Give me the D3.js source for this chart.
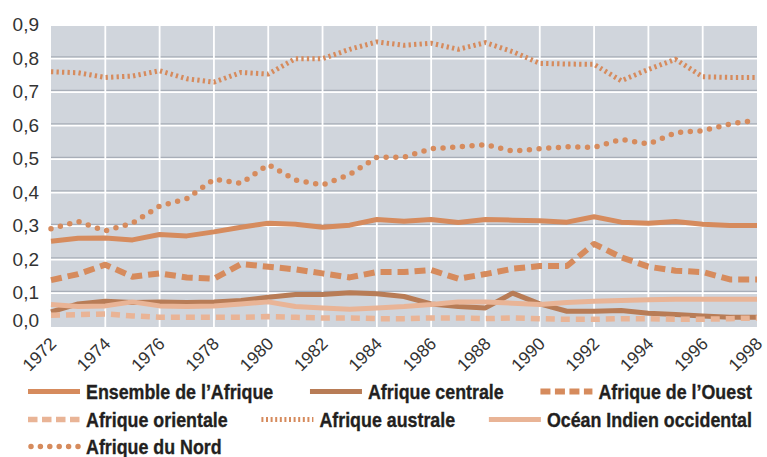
<!DOCTYPE html>
<html><head><meta charset="utf-8">
<script src="https://cdn.jsdelivr.net/npm/d3@7"></script>
<style>
html,body{margin:0;padding:0;background:#fff;}
svg{display:block;}
</style></head>
<body>
<svg id="chart" width="767" height="457"></svg>
<script>
const years = d3.range(1972, 1999);
const xTickLabels = ["1972","1974","1976","1978","1980","1982","1984","1986","1988","1990","1992","1994","1996","1998"];
const yTickValues = [0,0.1,0.2,0.3,0.4,0.5,0.6,0.7,0.8,0.9];

const seriesNames = ["Ensemble de l’Afrique","Afrique centrale","Afrique de l’Ouest","Afrique orientale","Afrique australe","Océan Indien occidental","Afrique du Nord"];

const ensemble = [0.253,0.262,0.263,0.257,0.273,0.269,0.281,0.295,0.307,0.304,0.295,0.301,0.318,0.313,0.318,0.309,0.318,0.316,0.314,0.310,0.326,0.310,0.307,0.312,0.304,0.300,0.300];
const centrale = [0.042,0.066,0.074,0.070,0.072,0.070,0.072,0.076,0.086,0.094,0.094,0.099,0.096,0.088,0.066,0.058,0.054,0.098,0.066,0.044,0.044,0.046,0.038,0.034,0.030,0.026,0.026];
const ouest = [0.137,0.155,0.183,0.147,0.157,0.145,0.141,0.185,0.177,0.169,0.157,0.145,0.161,0.161,0.167,0.141,0.155,0.171,0.179,0.179,0.245,0.205,0.177,0.165,0.161,0.139,0.139];
const orientale = [0.032,0.034,0.036,0.030,0.026,0.026,0.026,0.026,0.028,0.026,0.024,0.024,0.022,0.022,0.024,0.024,0.022,0.024,0.022,0.020,0.020,0.022,0.022,0.020,0.020,0.022,0.024];
const australe = [0.759,0.756,0.742,0.746,0.762,0.738,0.728,0.757,0.752,0.798,0.798,0.826,0.848,0.838,0.844,0.826,0.846,0.819,0.784,0.782,0.781,0.732,0.766,0.796,0.744,0.742,0.742];
const oceanIndien = [0.064,0.058,0.060,0.072,0.060,0.058,0.060,0.066,0.072,0.058,0.054,0.050,0.054,0.058,0.064,0.072,0.072,0.068,0.064,0.070,0.074,0.076,0.078,0.080,0.080,0.080,0.080];
const nord = [0.290,0.312,0.284,0.307,0.358,0.380,0.438,0.426,0.482,0.436,0.421,0.452,0.504,0.504,0.529,0.535,0.541,0.522,0.529,0.535,0.533,0.557,0.543,0.577,0.583,0.603,0.615];

const allValues = [ensemble, centrale, ouest, orientale, australe, oceanIndien, nord];

const C_MAIN = "#d68b5d", C_DARK = "#b87c56", C_LIGHT = "#e9b496";
const styles = [
  {color:C_MAIN, width:5, dash:null, cap:"butt"},
  {color:C_DARK, width:5, dash:null, cap:"butt"},
  {color:C_MAIN, width:6, dash:"11,6", cap:"butt", ldash:"10,4.5"},
  {color:C_LIGHT, width:5.5, dash:"9,6", cap:"butt", ldash:"9.5,4.5"},
  {color:C_MAIN, width:5, dash:"2.3,3.2", cap:"butt", ldash:"2,2.6"},
  {color:C_LIGHT, width:5, dash:null, cap:"butt"},
  {color:C_MAIN, width:5.5, dash:"0,9.7", cap:"round", ldash:"0,9.4"}
];

const svg = d3.select("#chart");
const L = 51, R = 757, T = 26, B = 327;
const x = d3.scaleLinear().domain([1972,1998]).range([L,R]);
const y = d3.scaleLinear().domain([0,0.9]).range([326,24.5]);

svg.append("rect").attr("x",L).attr("y",T).attr("width",R-L).attr("height",B-T).attr("fill","#d0d5dc");

// horizontal gridlines: grey shadow then white
const hg = svg.append("g");
yTickValues.filter(v=>v>0 && v<0.9).forEach(v=>{
  hg.append("line").attr("x1",L).attr("x2",R).attr("y1",y(v)-1).attr("y2",y(v)-1).attr("stroke","#a8aeb8").attr("stroke-width",1.6);
  hg.append("line").attr("x1",L).attr("x2",R).attr("y1",y(v)+0.6).attr("y2",y(v)+0.6).attr("stroke","#ffffff").attr("stroke-width",1.6);
});
// vertical gridlines
const xTickVals = xTickLabels.map(Number);
xTickVals.filter(v=>v>1972 && v<1998).forEach(v=>{
  hg.append("line").attr("x1",x(v)).attr("x2",x(v)).attr("y1",T).attr("y2",B).attr("stroke","#ffffff").attr("stroke-width",1.8);
});

// series
const line = d3.line().x((d,i)=>x(years[i])).y(d=>y(d));
const drawOrder = [4,6,0,2,1,5,3];
drawOrder.forEach(k=>{
  const s = styles[k];
  const p = svg.append("path").datum(allValues[k]).attr("d",line)
    .attr("fill","none").attr("stroke",s.color).attr("stroke-width",s.width)
    .attr("stroke-linejoin","round").attr("stroke-linecap",s.cap);
  if(s.dash) p.attr("stroke-dasharray",s.dash);
});

// y axis labels
const yAxis = svg.append("g").attr("font-family","'Liberation Sans', Arial, sans-serif").attr("font-size",19).attr("fill","#333");
yTickValues.forEach(v=>{
  yAxis.append("text").attr("x",39).attr("y",Math.min(y(v),320.5)).attr("dy","0.35em").attr("text-anchor","end")
    .text(d3.format(".1f")(v).replace(".",","));
});

// x axis labels
const xAxis = svg.append("g").attr("font-family","'Liberation Sans', Arial, sans-serif").attr("font-size",17.5).attr("fill","#333");
xTickLabels.forEach(t=>{
  const px = x(+t) + 2, py = 340.5;
  xAxis.append("text").attr("transform",`translate(${px},${py}) rotate(-45)`).attr("text-anchor","end").attr("dy","0.35em").text(t);
});

// legend
const legendRows = [[0,1,2],[3,4,5],[6]];
const rowBase = [398.5, 426.5, 453.5];
const symW = 52, gapT = 6, left = 28, right = 752;
const condense = 0.85;
const lg = svg.append("g");
legendRows.forEach((row,ri)=>{
  const items = row.map(k=>{
    const g = lg.append("g");
    const s = styles[k];
    const ly = rowBase[ri]-7;
    const l = g.append("line").attr("x1",0).attr("x2",symW).attr("y1",ly).attr("y2",ly)
      .attr("stroke",s.color).attr("stroke-width",s.width).attr("stroke-linecap",s.cap);
    if(s.ldash) l.attr("stroke-dasharray",s.ldash);
    if(s.cap==="round") l.attr("x1",3).attr("x2",symW);
    const t = g.append("text")
      .attr("transform",`translate(${symW+gapT},${rowBase[ri]}) scale(${condense},1)`)
      .attr("font-family","'Liberation Sans', Arial, sans-serif").attr("font-weight","bold")
      .attr("font-size",21).attr("fill","#231f20").attr("stroke","#231f20").attr("stroke-width",0.35)
      .text(seriesNames[k]);
    const tw = t.node().getComputedTextLength()*condense;
    const w = symW + gapT + tw;
    return {g,w};
  });
  const total = d3.sum(items,d=>d.w);
  const gap = items.length>1 ? (right-left-total)/(items.length-1) : 0;
  let cx = left;
  items.forEach(it=>{ it.g.attr("transform",`translate(${cx},0)`); cx += it.w + gap; });
});
</script>
</body></html>
